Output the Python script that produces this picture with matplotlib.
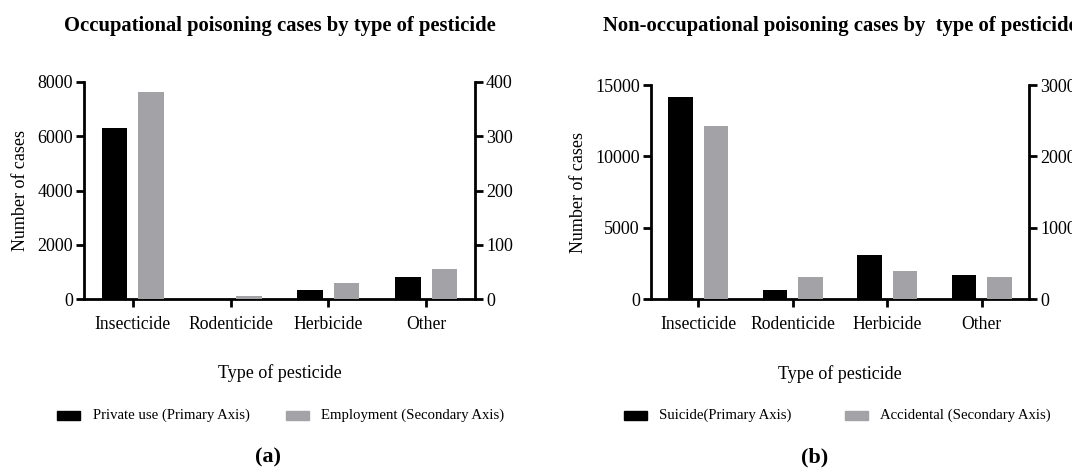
import matplotlib
matplotlib.use("Agg")
import matplotlib.pyplot as plt
import numpy as np

categories = ["Insecticide", "Rodenticide", "Herbicide", "Other"]

# Panel (a)
occ_private = [6300, 0, 330, 800]          # primary axis
occ_employment = [381, 5, 29, 55]          # secondary axis
# Panel (b)
non_suicide = [14150, 630, 3100, 1700]     # primary axis
non_accidental = [2420, 312, 400, 315]     # secondary axis

titles = ["Occupational poisoning cases by type of pesticide",
          "Non-occupational poisoning cases by  type of pesticide"]
legend_labels = [["Private use (Primary Axis)", "Employment (Secondary Axis)"],
                 ["Suicide(Primary Axis)", "Accidental (Secondary Axis)"]]
primary_ticks = [[0, 2000, 4000, 6000, 8000], [0, 5000, 10000, 15000]]
secondary_ticks = [[0, 100, 200, 300, 400], [0, 1000, 2000, 3000]]
panel_labels = ["(a)", "(b)"]

plt.rcParams['font.family'] = ['Liberation Serif', 'DejaVu Serif']

BLACK = "#000000"
GRAY = "#a3a2a7"

fig = plt.figure(figsize=(10.72, 4.71), dpi=100)

positions = [[84/1072, 172/471, 391/1072, 217/471],
             [651/1072, 171.7/471, 378/1072, 214.3/471]]
data = [(occ_private, occ_employment), (non_suicide, non_accidental)]
legend_pos = [[(57, 93), (286, 321)], [(624, 659), (845, 880)]]
panel_xy = [(268, 457), (815, 457)]
title_pads = [37, 39]

x = np.arange(len(categories))
w = 0.26
off = 0.187
FS = 13

for i in range(2):
    ax = fig.add_axes(positions[i])
    ax2 = ax.twinx()
    prim, sec = data[i]
    ax.bar(x - off, prim, width=w, color=BLACK, zorder=3)
    ax2.bar(x + off, sec, width=w, color=GRAY, zorder=3)
    ax.set_xlim(-0.5, 3.5)
    ax.set_ylim(0, primary_ticks[i][-1])
    ax2.set_ylim(0, secondary_ticks[i][-1])
    ax.set_yticks(primary_ticks[i])
    ax2.set_yticks(secondary_ticks[i])
    ax.set_xticks(x)
    ax.set_xticklabels(categories)
    for a in (ax, ax2):
        a.spines['top'].set_visible(False)
        for s in ('left', 'right', 'bottom'):
            a.spines[s].set_linewidth(2)
        a.tick_params(width=2, length=6, labelsize=FS, direction='out')
    ax.tick_params(axis='x', labelsize=12.7)
    ax.spines['right'].set_visible(False)
    ax2.spines['left'].set_visible(False)
    ax2.spines['bottom'].set_visible(False)
    ax.tick_params(axis='x', pad=6)
    ax.tick_params(axis='y', pad=2)
    ax2.tick_params(axis='y', pad=2)
    ax.set_ylabel("Number of cases", fontsize=FS, labelpad=6)
    ax.set_xlabel("Type of pesticide", fontsize=FS, labelpad=23)
    ax.set_title(titles[i], fontsize=14.9, fontweight='bold', pad=title_pads[i])

    # legend entries placed manually
    for (px, tx), lab, col in zip(legend_pos[i], legend_labels[i], [BLACK, GRAY]):
        fig.patches.append(matplotlib.patches.Rectangle(
            (px/1072, (471-419.5)/471), 23/1072, 9/471,
            transform=fig.transFigure, color=col))
        fig.text(tx/1072, (471-415)/471, lab, fontsize=10.6, va='center', ha='left')

    fig.text(panel_xy[i][0]/1072, (471-panel_xy[i][1])/471, panel_labels[i],
             fontsize=16, fontweight='bold', ha='center', va='center',
             family=['Liberation Serif'])

fig.savefig("out.png", dpi=100)
